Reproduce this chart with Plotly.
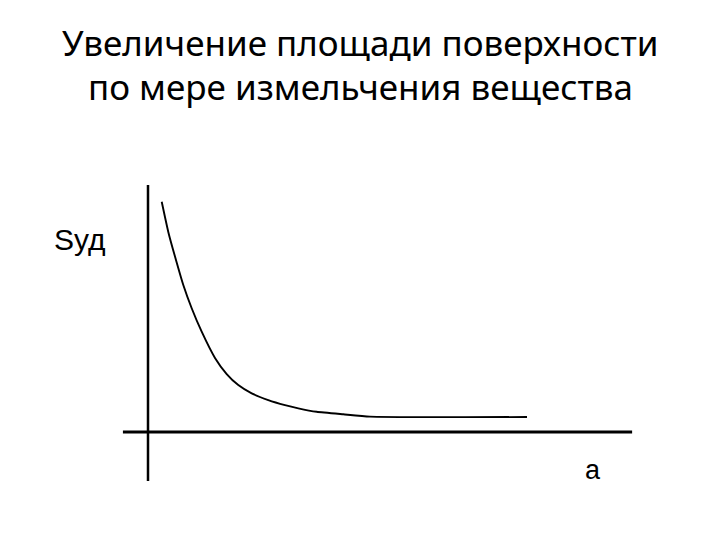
import plotly.graph_objects as go

# Data (arbitrary units: particle size a vs specific surface S)
a_values = [0.361, 0.534, 0.755, 0.929, 1.150, 1.413, 1.763, 2.071, 2.376, 2.729,
            3.166, 3.605, 3.955, 4.439, 5.139, 5.842, 9.974]
s_values = [10.01, 8.70, 7.37, 6.39, 5.38, 4.36, 3.22, 2.52, 2.04, 1.68,
            1.39, 1.17, 1.03, 0.88, 0.77, 0.67, 0.65]

title_lines = ["Увеличение площади поверхности", "по мере измельчения вещества"]
y_label = "Sуд"
x_label = "a"

# axis extents (data units)
x_axis_span = [-0.66, 12.74]
y_axis_span = [-2.13, 10.74]

PX_X = 38.0
PX_Y = 23.0
PAGE_OFF = 8  # browser body margin
OX, OY = 148 - PAGE_OFF, 432 - PAGE_OFF

fig = go.Figure()
fig.add_trace(go.Scatter(x=a_values, y=s_values, mode="lines",
                         line=dict(color="black", width=1.9, shape="spline", smoothing=0.5),
                         hoverinfo="skip", showlegend=False))

fig.add_shape(type="line", x0=x_axis_span[0], x1=x_axis_span[1], y0=0, y1=0,
              line=dict(color="black", width=3))
fig.add_shape(type="line", x0=0, x1=0, y0=y_axis_span[0], y1=y_axis_span[1],
              line=dict(color="black", width=2.5))

fig.add_annotation(text=y_label, x=(80 - 148) / PX_X, y=(432 - 239) / PX_Y,
                   showarrow=False, font=dict(family="Liberation Sans", size=30, color="black"),
                   xanchor="center", yanchor="middle")
fig.add_annotation(text=x_label, x=(593 - 148) / PX_X, y=(432 - 470) / PX_Y,
                   showarrow=False, font=dict(family="Liberation Sans", size=27, color="black"),
                   xanchor="center", yanchor="middle")

for i, t in enumerate(title_lines):
    fig.add_annotation(text=t, xref="paper", yref="paper", x=(360 - PAGE_OFF) / 720,
                       y=1 - (42 - PAGE_OFF + 45 * i) / 540, showarrow=False,
                       font=dict(family="Noto Sans", size=35, color="black"),
                       xanchor="center", yanchor="middle")

fig.update_layout(
    width=720, height=540,
    margin=dict(l=0, r=0, t=0, b=0),
    paper_bgcolor="white", plot_bgcolor="white",
    xaxis=dict(range=[-OX / PX_X, (720 - OX) / PX_X], visible=False, fixedrange=True),
    yaxis=dict(range=[(OY - 540) / PX_Y, OY / PX_Y], visible=False, fixedrange=True),
)

fig.write_html("out.html")
